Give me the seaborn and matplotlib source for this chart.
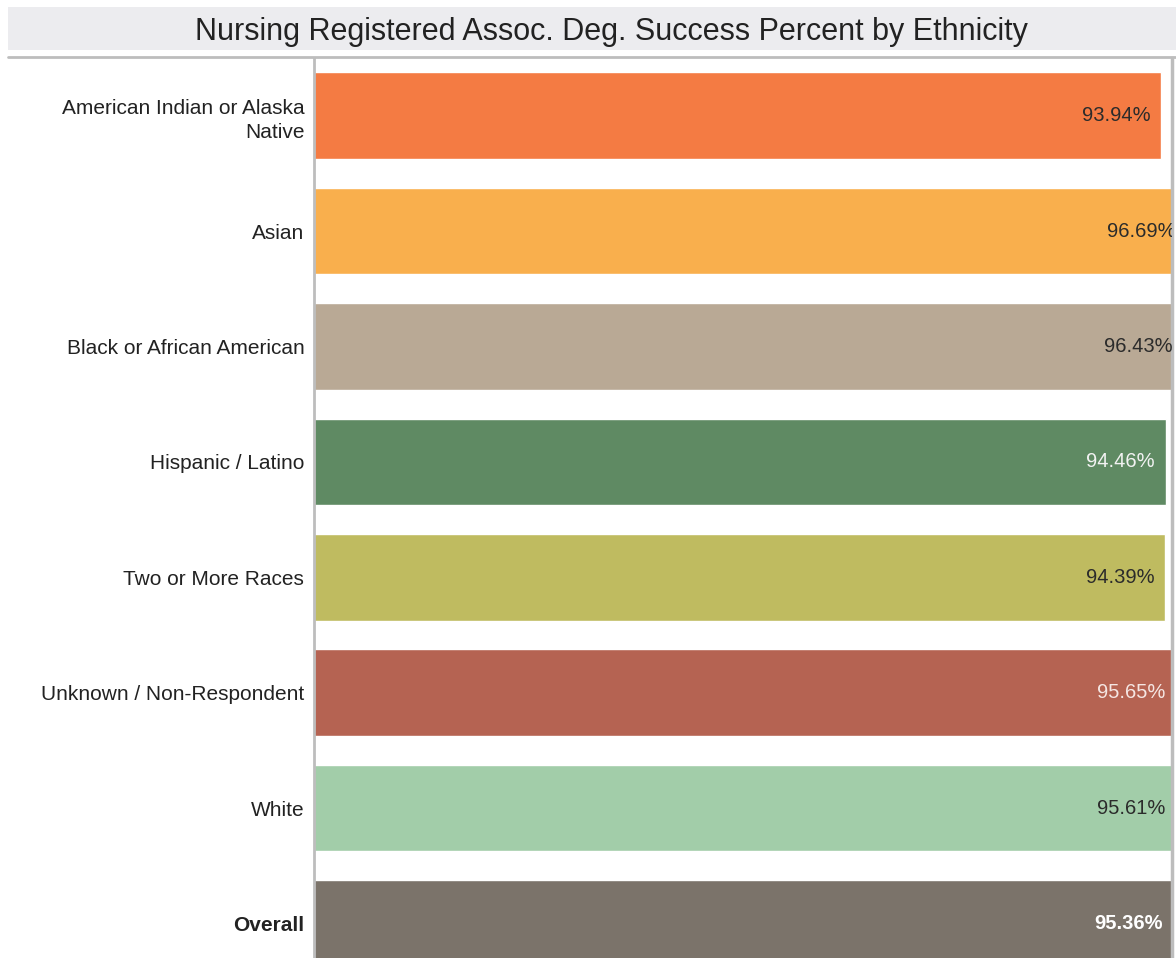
import matplotlib
matplotlib.use("Agg")
import matplotlib.pyplot as plt
import seaborn as sns
import pandas as pd

# Success rates by ethnicity
categories = [
    "American Indian or Alaska\nNative",
    "Asian",
    "Black or African American",
    "Hispanic / Latino",
    "Two or More Races",
    "Unknown / Non-Respondent",
    "White",
    "Overall",
]
success_pct = [93.94, 96.69, 96.43, 94.46, 94.39, 95.65, 95.61, 95.36]
bar_colors = ["#F47B43", "#F9AF4D", "#B9A995", "#5F8A63",
              "#BFBB60", "#B56352", "#A2CDA9", "#7B736A"]
label_colors = ["#2b2b2b", "#2b2b2b", "#2b2b2b", "#f2f2f2",
                "#2b2b2b", "#f5e6e3", "#2b2b2b", "#ffffff"]
title = "Nursing Registered Assoc. Deg. Success Percent by Ethnicity"

df = pd.DataFrame({"Ethnicity": categories, "Success": success_pct})

sns.set_theme(style="white")
plt.rcParams["font.family"] = ["Liberation Sans", "DejaVu Sans"]

W, H = 1176, 958
fig = plt.figure(figsize=(W / 100, H / 100), dpi=100)

# Title band
band = fig.add_axes([8 / W, 1 - 50 / H, 1 - 8 / W, 43 / H])
band.set_facecolor("#ECECEF")
band.set_xticks([]); band.set_yticks([])
for s in band.spines.values():
    s.set_visible(False)
band.text(0.517, 0.43, title, ha="center", va="center", fontsize=22,
          color="#222222", transform=band.transAxes)

# Divider under the title
fig.add_artist(plt.Line2D([8 / W, 1], [1 - 57 / H, 1 - 57 / H],
                          color="#BDBDBD", lw=2, transform=fig.transFigure))

ax = fig.add_axes([314 / W, 0, (1172 - 314) / W, 1 - 58 / H])
sns.barplot(data=df, x="Success", y="Ethnicity", hue="Ethnicity",
            palette=dict(zip(categories, bar_colors)), orient="h",
            width=0.75, dodge=False, legend=False, ax=ax, saturation=1)

px_per_unit = 9.02
ax.set_xlim(0, (1172 - 314) / px_per_unit)
ax.set_ylim(7.30, -0.50)
ax.set_xlabel(""); ax.set_ylabel("")
ax.set_xticks([])
ax.tick_params(axis="y", length=0, pad=7, labelsize=15, labelcolor="#222222")
for lbl in ax.get_yticklabels():
    lbl.set_linespacing(1.35)
    if lbl.get_text() == "Overall":
        lbl.set_fontweight("bold")

for s in ["top", "bottom"]:
    ax.spines[s].set_visible(False)
ax.spines["left"].set_color("#BDBDBD")
ax.spines["left"].set_linewidth(2)
ax.spines["right"].set_color("#BDBDBD")
ax.spines["right"].set_linewidth(2.5)

off = 11 / px_per_unit
for i, (v, c) in enumerate(zip(success_pct, label_colors)):
    ax.text(v - off, i, f"{v:.2f}%", ha="right", va="center",
            fontsize=14.5, color=c, clip_on=True,
            fontweight="bold" if categories[i] == "Overall" else "normal")

fig.savefig("out.png", dpi=100)
